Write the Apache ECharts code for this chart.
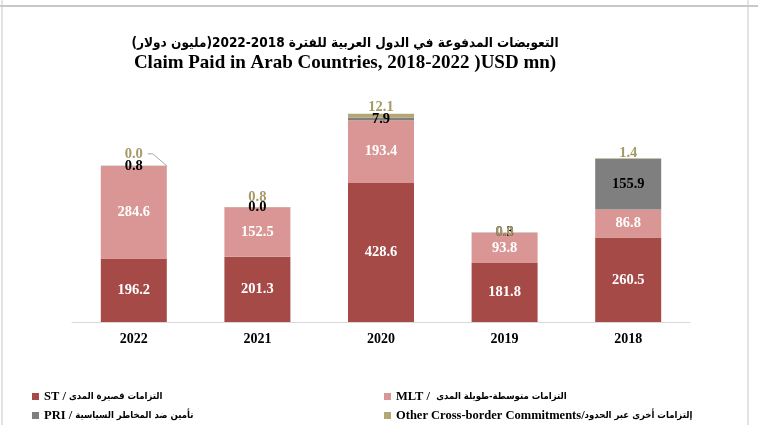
<!DOCTYPE html>
<html lang="ar">
<head>
    <meta charset="UTF-8">
    <title>Claim Paid in Arab Countries</title>
    <script src="https://cdn.jsdelivr.net/npm/echarts@6/dist/echarts.min.js"></script>
    <style>
        body { margin: 0; background: #fff; }
    </style>
</head>
<body>
<div id="main" style="width:758px;height:425px;"></div>
<script>
    // categories and values
    var years = ['2022', '2021', '2020', '2019', '2018'];
    var stData = [196.2, 201.3, 428.6, 181.8, 260.5];
    var mltData = [284.6, 152.5, 193.4, 93.8, 86.8];
    var priData = [0.8, 0.0, 7.9, 0.3, 155.9];
    var otherData = [0.0, 0.8, 12.1, 0.0, 1.4];

    var names = {
        st: 'ST / التزامات قصيرة المدى',
        mlt: 'MLT /  التزامات متوسطة-طويلة المدى',
        pri: 'PRI / تأمين ضد المخاطر السياسية',
        other: 'Other Cross-border Commitments/إلتزامات أخرى عبر الحدود'
    };

    // how far the "other" labels sit above the top of each bar
    var otherDy = [-12, -10, -9, 0, -5];

    var serif = '"Liberation Serif", "Times New Roman", serif';
    var arab = '"DejaVu Sans Condensed", "DejaVu Sans", sans-serif';
    var fmt = function (p) { return Number(p.value).toFixed(1); };

    var myChart = echarts.init(document.getElementById('main'));

    // english part and arabic part get their own fonts
    function splitName(name) {
        var i = name.search(/[\u0600-\u06FF]/);
        return '{en|' + name.slice(0, i) + '}{ar|' + name.slice(i) + '}';
    }

    function legendAt(name, x, y) {
        return {
            data: [name],
            left: x, top: y,
            icon: 'rect',
            itemWidth: 7, itemHeight: 7,
            selectedMode: false,
            formatter: splitName,
            textStyle: {
                rich: {
                    en: { fontFamily: serif, fontWeight: 'bold', fontSize: 12.5, color: '#000' },
                    ar: { fontFamily: arab, fontWeight: 'bold', fontSize: 9.5, color: '#000' }
                }
            }
        };
    }

    var labelFont = { fontFamily: serif, fontWeight: 'bold', fontSize: 14.5 };

    var frame = [
        { type: 'line', shape: { x1: 0, y1: 6, x2: 758, y2: 6 }, style: { stroke: '#C8C8C8', lineWidth: 2 }, silent: true },
        { type: 'line', shape: { x1: 2, y1: 0, x2: 2, y2: 425 }, style: { stroke: '#C8C8C8', lineWidth: 1 }, silent: true },
        { type: 'line', shape: { x1: 748, y1: 0, x2: 748, y2: 425 }, style: { stroke: '#C8C8C8', lineWidth: 1 }, silent: true }
    ];

    var option = {
        backgroundColor: '#fff',
        animation: false,
        title: {
            text: '{ar|\u202Bالتعويضات المدفوعة في الدول العربية للفترة 2018-2022(مليون دولار)\u202C}\n{en|Claim Paid in Arab Countries, 2018-2022 )USD mn)}',
            left: 340,
            top: 28,
            textAlign: 'center',
            textStyle: {
                rich: {
                    ar: { fontFamily: arab, fontWeight: 'bold', fontSize: 13.5, lineHeight: 20, color: '#000', align: 'center' },
                    en: { fontFamily: serif, fontWeight: 'bold', fontSize: 19, lineHeight: 21, color: '#000', align: 'center' }
                }
            }
        },
        legend: [
            legendAt(names.st, 27, 385),
            legendAt(names.mlt, 379, 385),
            legendAt(names.pri, 27, 404),
            legendAt(names.other, 379, 404)
        ],
        grid: { left: 72, right: 68, top: 95, bottom: 103 },
        xAxis: {
            type: 'category',
            data: years,
            axisLine: { lineStyle: { color: '#D9D9D9', width: 1 } },
            axisTick: { show: false },
            axisLabel: { fontFamily: serif, fontWeight: 'bold', fontSize: 14, color: '#000', margin: 10 }
        },
        yAxis: {
            type: 'value',
            min: 0,
            max: 700,
            show: false,
            splitLine: { show: false }
        },
        series: [
            {
                name: names.st, type: 'bar', stack: 'total', barWidth: 66,
                data: stData,
                itemStyle: { color: '#A64A47' },
                label: Object.assign({ show: true, position: 'inside', formatter: fmt, color: '#fff' }, labelFont)
            },
            {
                name: names.mlt, type: 'bar', stack: 'total', barWidth: 66,
                data: mltData,
                itemStyle: { color: '#D99694' },
                label: Object.assign({ show: true, position: 'inside', formatter: fmt, color: '#fff' }, labelFont)
            },
            {
                name: names.pri, type: 'bar', stack: 'total', barWidth: 66,
                data: priData,
                itemStyle: { color: '#7F7F7F' },
                label: Object.assign({ show: true, position: 'inside', formatter: fmt, color: '#000' }, labelFont)
            },
            {
                name: names.other, type: 'bar', stack: 'total', barWidth: 66,
                data: otherData,
                itemStyle: { color: '#B3A775' },
                label: Object.assign({ show: true, position: 'inside', formatter: fmt, color: '#A69A68' }, labelFont),
                labelLayout: function (p) {
                    return { dy: otherDy[p.dataIndex] };
                }
            }
        ],
        graphic: frame
    };

    myChart.setOption(option);

    // leader line from the 2022 "other" label down to the bar's top corner
    var total0 = stData[0] + mltData[0] + priData[0] + otherData[0];
    var top0 = myChart.convertToPixel({ xAxisIndex: 0, yAxisIndex: 0 }, [0, total0]);
    var ly = top0[1] + otherDy[0];
    myChart.setOption({
        graphic: frame.concat([{
            type: 'polyline',
            shape: { points: [[top0[0] + 14, ly], [top0[0] + 19, ly], [top0[0] + 33, top0[1]]] },
            style: { stroke: '#A6A6A6', lineWidth: 1, fill: null },
            silent: true
        }])
    });
</script>
</body>
</html>
